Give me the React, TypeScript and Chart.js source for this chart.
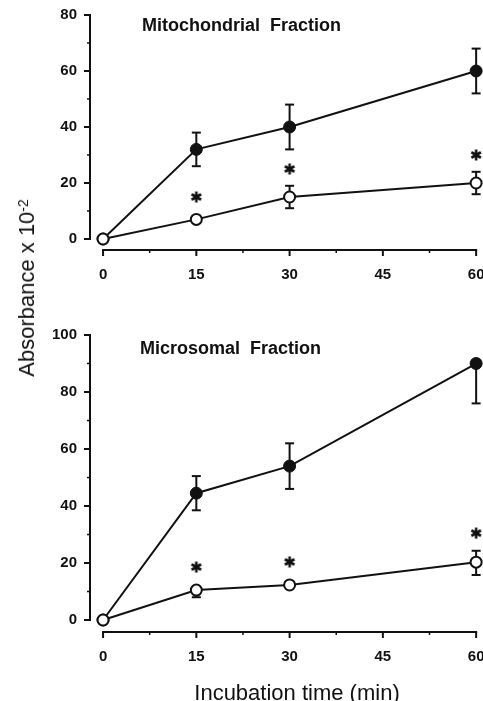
import React, { useEffect, useRef } from 'react';
import { Chart, registerables } from 'chart.js';

Chart.register(...registerables);

// ---------- data ----------
const times = [0, 15, 30, 60];
const xTicks = [0, 15, 30, 45, 60];
const xMinorTicks = [7.5, 22.5, 37.5, 52.5];
const starTimes = [15, 30, 60];

const mitoTitle = 'Mitochondrial  Fraction';
const mitoYTicks = [0, 20, 40, 60, 80];
const mitoYMinor = [10, 30, 50, 70];
const mitoFilled = [0, 32, 40, 60];
const mitoFilledLow = [null, 26, 32, 52];
const mitoFilledHigh = [null, 38, 48, 68];
const mitoOpen = [0, 7, 15, 20];
const mitoOpenLow = [null, null, 11, 16];
const mitoOpenHigh = [null, null, 19, 24];
const mitoStars = [15, 25, 30];

const microTitle = 'Microsomal  Fraction';
const microYTicks = [0, 20, 40, 60, 80, 100];
const microYMinor = [10, 30, 50, 70, 90];
const microFilled = [0, 44.5, 54, 90];
const microFilledLow = [null, 38.5, 46, 76];
const microFilledHigh = [null, 50.5, 62, null];
const microOpen = [0, 10.5, 12.3, 20.3];
const microOpenLow = [null, 8, null, 15.8];
const microOpenHigh = [null, null, null, 24.3];
const microStars = [18.6, 20.4, 30.5];

const yTitle = 'Absorbance x 10';
const ySup = '-2';
const xTitle = 'Incubation time (min)';

const INK = '#111';
const FONT = '"Liberation Sans", Arial, Helvetica, sans-serif';

type N = number | null;

interface PanelProps {
  top: number;
  height: number;
  padTop: number;
  padBottom: number;
  yMin: number;
  yMax: number;
  yTicks: number[];
  yMinor: number[];
  filled: number[];
  filledLow: N[];
  filledHigh: N[];
  open: number[];
  openLow: N[];
  openHigh: N[];
  stars: number[];
  title: string;
  titleX: number;
  titleY: number;
}

function makeStar(): HTMLCanvasElement {
  const c = document.createElement('canvas');
  c.width = 14;
  c.height = 14;
  const g = c.getContext('2d')!;
  g.strokeStyle = INK;
  g.lineWidth = 2.6;
  const cx = 7, cy = 7, r = 5.5;
  for (let k = 0; k < 3; k++) {
    const a = Math.PI / 2 + (k * Math.PI) / 3;
    g.beginPath();
    g.moveTo(cx + r * Math.cos(a), cy + r * Math.sin(a));
    g.lineTo(cx - r * Math.cos(a), cy - r * Math.sin(a));
    g.stroke();
  }
  return c;
}

function Panel(p: PanelProps) {
  const ref = useRef<HTMLCanvasElement | null>(null);

  useEffect(() => {
    if (!ref.current) return;
    const star = makeStar();

    const framePlugin = {
      id: 'frame',
      beforeDatasetsDraw(chart: any) {
        const { ctx, chartArea } = chart;
        const x = chart.scales.x;
        const y = chart.scales.y;
        ctx.save();
        ctx.strokeStyle = INK;
        ctx.lineWidth = 2;
        ctx.lineCap = 'butt';
        const ax = chartArea.left;
        const yTop = p.yTicks[p.yTicks.length - 1];
        // y axis line
        ctx.beginPath();
        ctx.moveTo(ax, y.getPixelForValue(yTop) - 1);
        ctx.lineTo(ax, y.getPixelForValue(0) + 1);
        ctx.stroke();
        p.yTicks.forEach((v) => {
          const py = y.getPixelForValue(v);
          ctx.beginPath();
          ctx.moveTo(ax - 6, py);
          ctx.lineTo(ax, py);
          ctx.stroke();
        });
        ctx.lineWidth = 1.5;
        p.yMinor.forEach((v) => {
          const py = y.getPixelForValue(v);
          ctx.beginPath();
          ctx.moveTo(ax - 3, py);
          ctx.lineTo(ax, py);
          ctx.stroke();
        });
        // x axis line
        const ay = chartArea.bottom;
        ctx.lineWidth = 2;
        ctx.beginPath();
        ctx.moveTo(x.getPixelForValue(xTicks[0]) - 1, ay);
        ctx.lineTo(x.getPixelForValue(xTicks[xTicks.length - 1]) + 1, ay);
        ctx.stroke();
        xTicks.forEach((v) => {
          const px = x.getPixelForValue(v);
          ctx.beginPath();
          ctx.moveTo(px, ay);
          ctx.lineTo(px, ay + 6);
          ctx.stroke();
        });
        ctx.lineWidth = 1.5;
        xMinorTicks.forEach((v) => {
          const px = x.getPixelForValue(v);
          ctx.beginPath();
          ctx.moveTo(px, ay);
          ctx.lineTo(px, ay + 3);
          ctx.stroke();
        });
        // error bars
        ctx.lineWidth = 2;
        const bars = (vals: number[], lows: N[], highs: N[]) => {
          vals.forEach((v, i) => {
            const px = x.getPixelForValue(times[i]);
            const pv = y.getPixelForValue(v);
            [lows[i], highs[i]].forEach((e) => {
              if (e === null || e === undefined) return;
              const pe = y.getPixelForValue(e);
              ctx.beginPath();
              ctx.moveTo(px, pv);
              ctx.lineTo(px, pe);
              ctx.stroke();
              ctx.beginPath();
              ctx.moveTo(px - 4.5, pe);
              ctx.lineTo(px + 4.5, pe);
              ctx.stroke();
            });
          });
        };
        bars(p.filled, p.filledLow, p.filledHigh);
        bars(p.open, p.openLow, p.openHigh);
        ctx.restore();
      },
      afterDraw(chart: any) {
        const { ctx } = chart;
        ctx.save();
        ctx.fillStyle = INK;
        ctx.font = `bold 18px ${FONT}`;
        ctx.textAlign = 'left';
        ctx.textBaseline = 'alphabetic';
        ctx.fillText(p.title, p.titleX, p.titleY);
        ctx.restore();
      },
    };

    const tickFont = { family: FONT, size: 15, weight: 'bold' as const };

    const chart = new Chart(ref.current, {
      type: 'line',
      data: {
        datasets: [
          {
            label: 'open',
            data: times.map((t, i) => ({ x: t, y: p.open[i] })),
            borderColor: INK,
            borderWidth: 2,
            pointRadius: 5.5,
            pointBorderWidth: 2,
            pointBackgroundColor: '#fff',
            pointBorderColor: INK,
            tension: 0,
            clip: false as any,
          },
          {
            label: 'filled',
            data: times.map((t, i) => ({ x: t, y: p.filled[i] })),
            borderColor: INK,
            borderWidth: 2,
            pointRadius: 6,
            pointBorderWidth: 1,
            pointBackgroundColor: INK,
            pointBorderColor: INK,
            tension: 0,
            clip: false as any,
          },
          {
            label: 'significance',
            data: starTimes.map((t, i) => ({ x: t, y: p.stars[i] })),
            showLine: false,
            pointStyle: star as any,
            pointRadius: 7,
            clip: false as any,
          },
        ],
      },
      options: {
        animation: false,
        responsive: false,
        maintainAspectRatio: false,
        layout: { autoPadding: false, padding: { top: p.padTop, right: 5, bottom: p.padBottom, left: 0 } },
        plugins: {
          legend: { display: false },
          tooltip: { enabled: false },
          title: { display: false },
        },
        scales: {
          x: {
            type: 'linear',
            min: -2.1,
            max: 60.3,
            grid: { display: false, drawTicks: false },
            border: { display: false },
            ticks: { font: tickFont, color: INK, padding: 16, maxRotation: 0 },
            afterBuildTicks: (s: any) => {
              s.ticks = xTicks.map((v) => ({ value: v }));
            },
            afterFit: (s: any) => {
              s.height = 50;
              s.paddingLeft = 0;
              s.paddingRight = 0;
            },
          },
          y: {
            type: 'linear',
            min: p.yMin,
            max: p.yMax,
            grid: { display: false, drawTicks: false },
            border: { display: false },
            ticks: { font: tickFont, color: INK, padding: 13 },
            afterBuildTicks: (s: any) => {
              s.ticks = p.yTicks.map((v) => ({ value: v }));
            },
            afterFit: (s: any) => {
              s.width = 90;
              s.paddingTop = 0;
              s.paddingBottom = 0;
            },
          },
        },
      },
      plugins: [framePlugin],
    });
    return () => chart.destroy();
  }, []);

  return (
    <canvas
      ref={ref}
      width={483}
      height={p.height}
      style={{ position: 'absolute', left: 0, top: p.top, width: 483, height: p.height }}
    />
  );
}

export default function App() {
  return (
    <div style={{ position: 'absolute', left: 0, top: 0, width: 483, height: 701, background: '#fff', overflow: 'hidden' }}>
      <Panel
        top={0}
        height={300}
        padTop={15}
        padBottom={0}
        yMin={-3.93}
        yMax={80}
        yTicks={mitoYTicks}
        yMinor={mitoYMinor}
        filled={mitoFilled}
        filledLow={mitoFilledLow}
        filledHigh={mitoFilledHigh}
        open={mitoOpen}
        openLow={mitoOpenLow}
        openHigh={mitoOpenHigh}
        stars={mitoStars}
        title={mitoTitle}
        titleX={142}
        titleY={31}
      />
      <Panel
        top={300}
        height={401}
        padTop={35}
        padBottom={19}
        yMin={-4.2}
        yMax={100}
        yTicks={microYTicks}
        yMinor={microYMinor}
        filled={microFilled}
        filledLow={microFilledLow}
        filledHigh={microFilledHigh}
        open={microOpen}
        openLow={microOpenLow}
        openHigh={microOpenHigh}
        stars={microStars}
        title={microTitle}
        titleX={140}
        titleY={54}
      />
      <div
        style={{
          position: 'absolute',
          left: 27,
          top: 288,
          transform: 'translate(-50%, -50%) rotate(-90deg)',
          fontFamily: FONT,
          fontSize: 22,
          color: INK,
          whiteSpace: 'nowrap',
          lineHeight: '26px',
        }}
      >
        {yTitle}
        <sup style={{ fontSize: 14, verticalAlign: 'top', position: 'relative', top: -4 }}>{ySup}</sup>
      </div>
      <div
        style={{
          position: 'absolute',
          left: 297,
          top: 693,
          transform: 'translate(-50%, -50%)',
          fontFamily: FONT,
          fontSize: 22,
          color: INK,
          whiteSpace: 'nowrap',
          lineHeight: '26px',
        }}
      >
        {xTitle}
      </div>
    </div>
  );
}
